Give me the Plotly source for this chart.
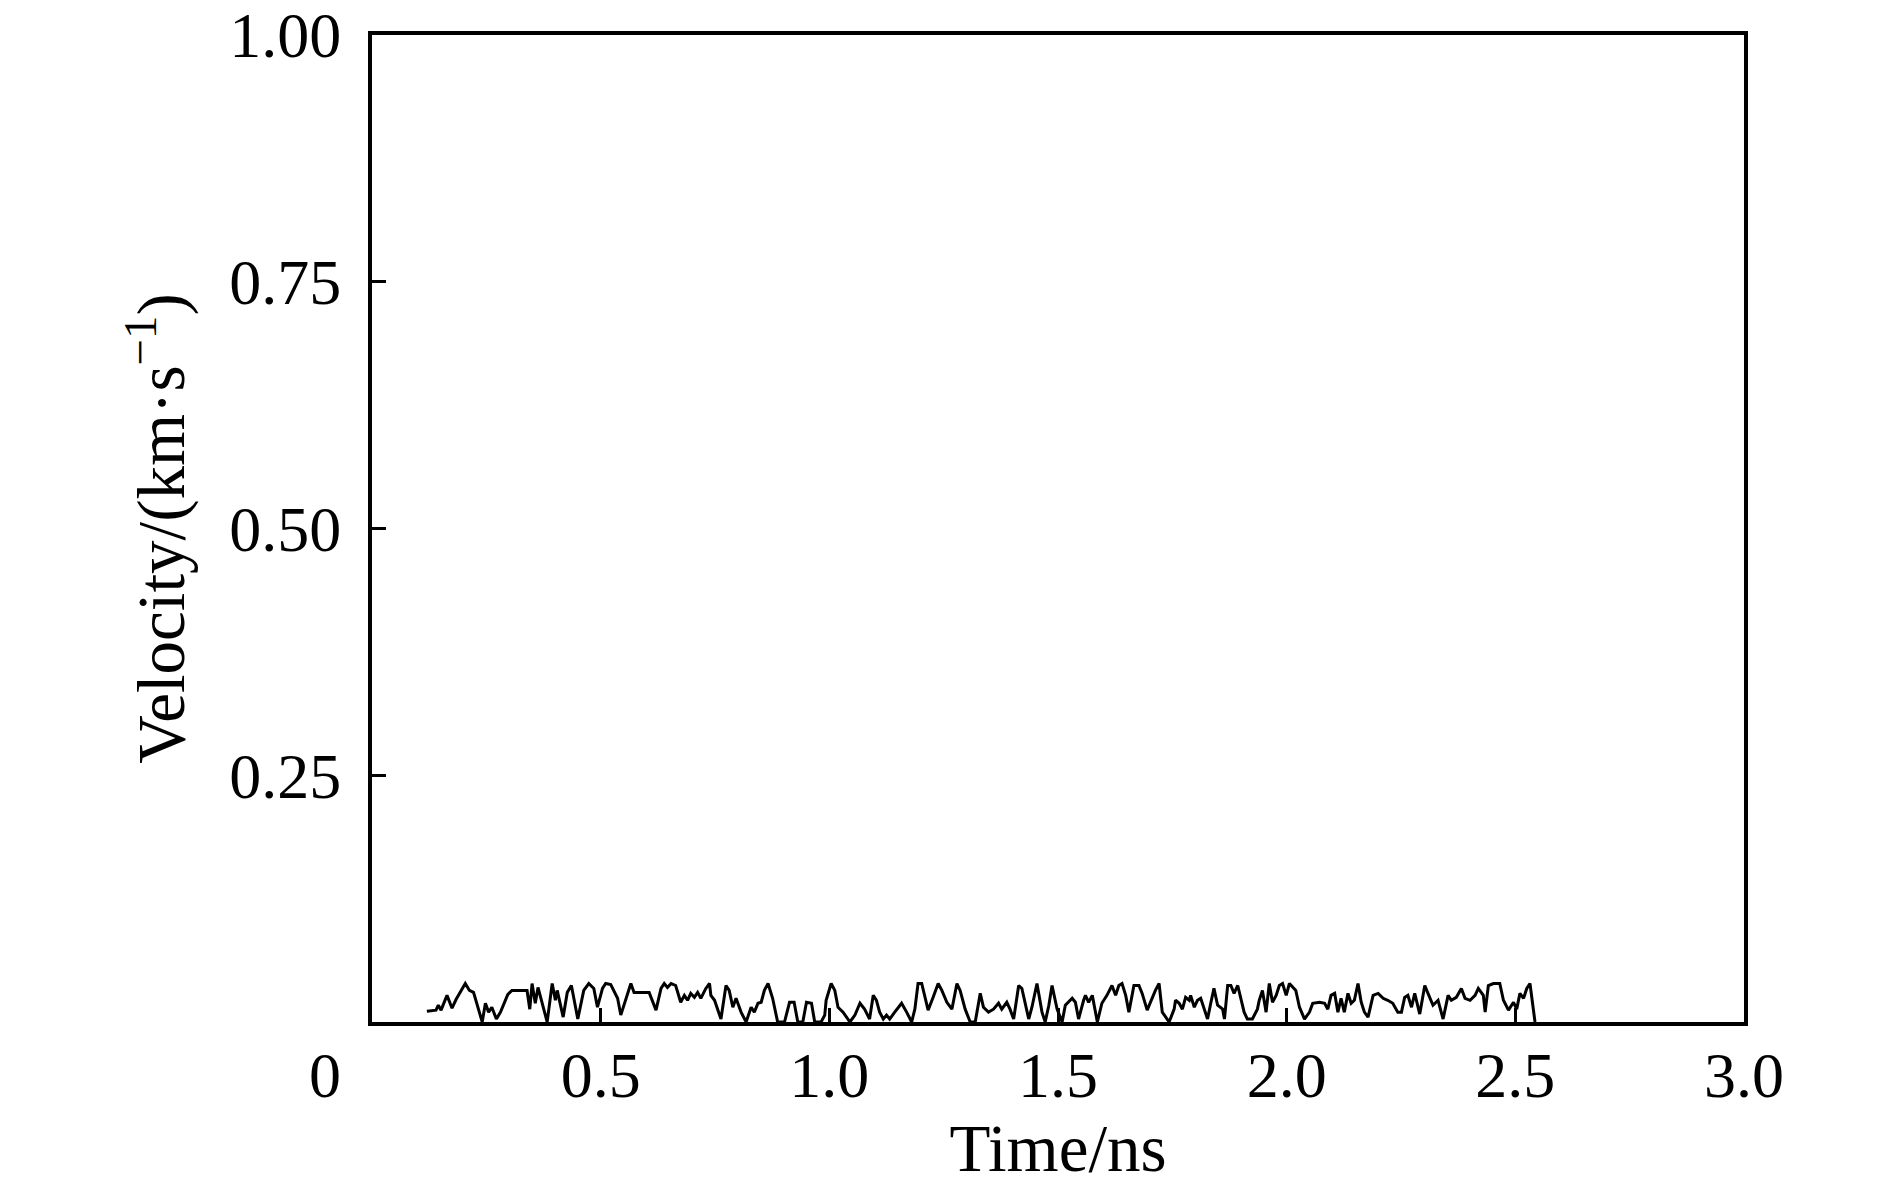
import plotly.graph_objects as go

# velocity trace (time in ns, velocity in km/s)
time_ns = [
    0.120, 0.140, 0.145, 0.151, 0.164, 0.175, 0.184, 0.204, 0.213, 0.222,
    0.241, 0.248, 0.255, 0.262, 0.272, 0.281, 0.297, 0.306, 0.325, 0.339,
    0.345, 0.350, 0.357, 0.363, 0.383, 0.394, 0.401, 0.405, 0.418, 0.427,
    0.436, 0.443, 0.450, 0.463, 0.474, 0.485, 0.493, 0.504, 0.511, 0.522,
    0.537, 0.544, 0.566, 0.573, 0.606, 0.621, 0.632, 0.639, 0.646, 0.654,
    0.664, 0.675, 0.683, 0.690, 0.697, 0.705, 0.712, 0.719, 0.730, 0.738,
    0.741, 0.749, 0.756, 0.763, 0.774, 0.781, 0.789, 0.796, 0.807, 0.818,
    0.829, 0.836, 0.844, 0.851, 0.858, 0.866, 0.876, 0.887, 0.902, 0.913,
    0.923, 0.931, 0.942, 0.950, 0.961, 0.968, 0.982, 0.990, 0.993, 1.004,
    1.012, 1.019, 1.030, 1.045, 1.056, 1.067, 1.077, 1.088, 1.096, 1.103,
    1.110, 1.118, 1.125, 1.132, 1.143, 1.158, 1.169, 1.180, 1.187, 1.194,
    1.202, 1.209, 1.216, 1.227, 1.238, 1.246, 1.257, 1.268, 1.279, 1.286,
    1.297, 1.308, 1.319, 1.330, 1.337, 1.348, 1.359, 1.370, 1.377, 1.388,
    1.395, 1.403, 1.414, 1.421, 1.428, 1.436, 1.443, 1.454, 1.465, 1.472,
    1.480, 1.487, 1.498, 1.509, 1.516, 1.523, 1.531, 1.538, 1.545, 1.556,
    1.560, 1.567, 1.575, 1.586, 1.596, 1.607, 1.618, 1.626, 1.633, 1.640,
    1.648, 1.655, 1.666, 1.677, 1.684, 1.695, 1.702, 1.713, 1.721, 1.728,
    1.743, 1.754, 1.757, 1.765, 1.772, 1.779, 1.787, 1.790, 1.798, 1.805,
    1.812, 1.819, 1.827, 1.834, 1.841, 1.849, 1.860, 1.864, 1.871, 1.878,
    1.885, 1.893, 1.907, 1.914, 1.925, 1.936, 1.940, 1.947, 1.955, 1.962,
    1.969, 1.977, 1.984, 1.991, 1.999, 2.006, 2.013, 2.020, 2.028, 2.039,
    2.050, 2.057, 2.072, 2.083, 2.090, 2.097, 2.105, 2.112, 2.119, 2.126,
    2.134, 2.141, 2.148, 2.156, 2.163, 2.170, 2.178, 2.189, 2.200, 2.211,
    2.221, 2.232, 2.243, 2.251, 2.258, 2.265, 2.273, 2.280, 2.291, 2.302,
    2.309, 2.320, 2.331, 2.342, 2.353, 2.360, 2.371, 2.382, 2.390, 2.401,
    2.412, 2.419, 2.430, 2.434, 2.441, 2.452, 2.466, 2.474, 2.485, 2.496,
    2.503, 2.510, 2.518, 2.525, 2.532, 2.543,
]
velocity = [
    0.011, 0.012, 0.017, 0.012, 0.027, 0.014, 0.023, 0.039, 0.032, 0.030,
    0.000, 0.019, 0.010, 0.015, 0.003, 0.010, 0.028, 0.032, 0.032, 0.032,
    0.013, 0.039, 0.019, 0.035, 0.000, 0.039, 0.022, 0.032, 0.005, 0.030,
    0.037, 0.020, 0.003, 0.032, 0.039, 0.034, 0.015, 0.034, 0.039, 0.038,
    0.024, 0.007, 0.039, 0.030, 0.030, 0.012, 0.034, 0.039, 0.035, 0.039,
    0.037, 0.020, 0.027, 0.022, 0.029, 0.025, 0.030, 0.024, 0.034, 0.039,
    0.027, 0.022, 0.013, 0.003, 0.037, 0.032, 0.015, 0.024, 0.010, 0.000,
    0.015, 0.010, 0.019, 0.020, 0.032, 0.039, 0.024, 0.000, 0.000, 0.020,
    0.020, 0.000, 0.000, 0.020, 0.019, 0.000, 0.000, 0.007, 0.022, 0.039,
    0.032, 0.015, 0.010, 0.000, 0.007, 0.019, 0.013, 0.003, 0.027, 0.022,
    0.010, 0.003, 0.007, 0.003, 0.010, 0.019, 0.010, 0.000, 0.013, 0.039,
    0.039, 0.024, 0.012, 0.025, 0.039, 0.032, 0.020, 0.013, 0.039, 0.032,
    0.013, 0.000, 0.000, 0.029, 0.015, 0.010, 0.013, 0.019, 0.013, 0.020,
    0.013, 0.003, 0.037, 0.034, 0.019, 0.003, 0.015, 0.039, 0.010, 0.000,
    0.017, 0.037, 0.013, 0.000, 0.017, 0.020, 0.024, 0.020, 0.003, 0.022,
    0.027, 0.020, 0.027, 0.000, 0.019, 0.027, 0.037, 0.027, 0.037, 0.039,
    0.027, 0.010, 0.037, 0.037, 0.029, 0.012, 0.020, 0.032, 0.039, 0.010,
    0.000, 0.013, 0.022, 0.019, 0.013, 0.025, 0.022, 0.027, 0.015, 0.022,
    0.024, 0.015, 0.003, 0.019, 0.034, 0.017, 0.013, 0.003, 0.037, 0.037,
    0.029, 0.037, 0.010, 0.003, 0.003, 0.013, 0.022, 0.032, 0.010, 0.039,
    0.020, 0.027, 0.037, 0.039, 0.027, 0.039, 0.035, 0.032, 0.015, 0.003,
    0.010, 0.019, 0.020, 0.019, 0.013, 0.027, 0.029, 0.010, 0.024, 0.010,
    0.029, 0.019, 0.022, 0.039, 0.020, 0.010, 0.005, 0.027, 0.029, 0.024,
    0.022, 0.019, 0.010, 0.010, 0.025, 0.027, 0.015, 0.029, 0.008, 0.037,
    0.029, 0.017, 0.022, 0.003, 0.027, 0.022, 0.025, 0.034, 0.024, 0.022,
    0.027, 0.034, 0.027, 0.010, 0.037, 0.039, 0.039, 0.022, 0.012, 0.020,
    0.013, 0.029, 0.024, 0.034, 0.039, 0.000,
]

x_tickvals = [0.5, 1.0, 1.5, 2.0, 2.5, 3.0]
x_ticktext = ["0.5", "1.0", "1.5", "2.0", "2.5", "3.0"]
y_tickvals = [0.25, 0.50, 0.75, 1.00]
y_ticktext = ["0.25", "0.50", "0.75", "1.00"]

font_name = "Liberation Serif"

fig = go.Figure()

fig.add_trace(go.Scatter(x=time_ns,
                         y=velocity,
                         mode='lines',
                         line={'color': 'black', 'width': 3},
                         showlegend=False))

# origin label sits left of the corner, as in the original figure
fig.add_annotation(x=0, y=0, xref='x', yref='y', text='0', showarrow=False,
                   xanchor='center', yanchor='top', xshift=-47, yshift=-16,
                   font={'family': font_name, 'size': 64, 'color': 'black'})

fig.update_layout(
    template='none',
    width=1890, height=1186,
    margin={'l': 364, 'r': 154, 't': 27, 'b': 172},
    paper_bgcolor='white',
    plot_bgcolor='white',
    font={'family': font_name, 'size': 64, 'color': 'black'},
    xaxis={'range': [0, 3], 'tickvals': x_tickvals, 'ticktext': x_ticktext,
           'ticks': 'inside', 'ticklen': 14, 'tickwidth': 3, 'tickcolor': 'black',
           'showline': True, 'linewidth': 4, 'linecolor': 'black', 'mirror': True,
           'showgrid': False, 'zeroline': False, 'ticklabelstandoff': -6,
           'ticklabeloverflow': 'allow', 'automargin': False,
           'title': {'text': 'Time/ns', 'standoff': 6, 'font': {'size': 67}}},
    yaxis={'range': [0, 1], 'tickvals': y_tickvals, 'ticktext': y_ticktext,
           'ticks': 'inside', 'ticklen': 14, 'tickwidth': 3, 'tickcolor': 'black',
           'showline': True, 'linewidth': 4, 'linecolor': 'black', 'mirror': True,
           'showgrid': False, 'zeroline': False, 'ticklabelstandoff': 14,
           'ticklabeloverflow': 'allow', 'automargin': False,
           'title': {'text': 'Velocity/(km·s<sup>−1</sup>)', 'standoff': 24,
                     'font': {'size': 67}}},
)

fig.write_html("out.html")
